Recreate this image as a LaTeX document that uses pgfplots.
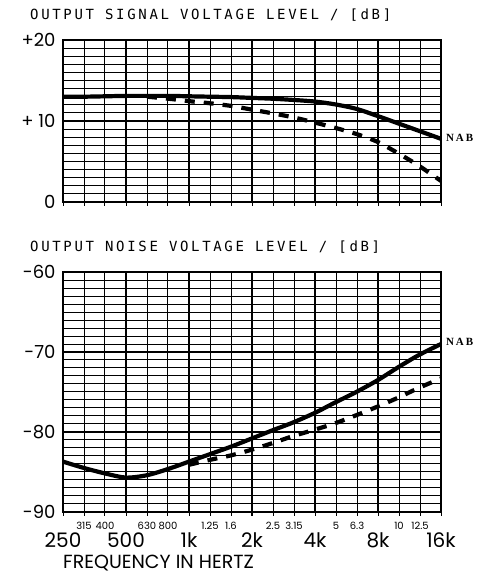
\documentclass[border=0pt]{standalone}
\usepackage{pgfplots}
\pgfplotsset{compat=1.18}
\usepackage{fontspec}
\setmainfont{Poppins}
\newfontfamily\titlefont{DejaVu Sans Mono}[LetterSpace=19]
\newfontfamily\nabfont{Liberation Serif}

\tikzset{
  sigline/.style={black, line width=4.2pt, smooth, tension=0.5},
  nabline/.style={black, line width=4.2pt, smooth, tension=0.5, dash pattern=on 10pt off 9pt},
}

\begin{document}
\begin{tikzpicture}[x=1pt,y=1pt]
\useasboundingbox (0,0) rectangle (492,576);

% signal level
\begin{axis}[at={(63pt,374pt)}, anchor=south west,
  scale only axis, width=378pt, height=162pt,
  xmode=log, log basis x=2, xmin=250, xmax=16000,
  xtick={250,500,1000,2000,4000,8000,16000},
  extra x ticks={314.98,396.85,629.96,793.70,1259.92,1587.40,2519.84,3174.80,5039.68,6349.60,10079.37,12699.21},
  grid=both,
  major grid style={black, line width=2.2pt},
  minor grid style={black, line width=1.0pt},
  extra x tick style={major grid style={black, line width=1.0pt}},
  axis line style={line width=2.8pt},
  tick align=outside, xtick pos=bottom, major tick length=4pt,
  xtick style={black, line width=1pt},
  ytick style={draw=none},
  yticklabel style={font=\fontsize{18}{18}\selectfont},
  ymin=0, ymax=20, ytick={0,10,20}, yticklabels={0,+ 10,+20},
  minor ytick={1,...,19},
  xticklabels={}, extra x tick labels={}]
\addplot[sigline] coordinates {
  (250,13.0) (315,13.0) (400,13.05) (500,13.1) (630,13.1) (800,13.1)
  (1000,13.05) (1250,13.0) (1600,12.95) (2000,12.85) (2500,12.75)
  (3150,12.6) (4000,12.4) (5000,12.05) (6300,11.5) (8000,10.6)
  (10000,9.7) (12500,8.8) (16000,7.8)};
\addplot[nabline] coordinates {
  (630,13.0) (800,12.75) (1000,12.45) (1250,12.2) (1600,11.85)
  (2000,11.4) (2500,10.95) (3150,10.45) (4000,9.8) (5000,9.15)
  (6300,8.4) (8000,7.4) (10000,6.0) (12500,4.5) (16000,2.6)};
\end{axis}

% noise level
\begin{axis}[at={(63pt,64pt)}, anchor=south west,
  scale only axis, width=378pt, height=240pt,
  xmode=log, log basis x=2, xmin=250, xmax=16000,
  xtick={250,500,1000,2000,4000,8000,16000},
  extra x ticks={314.98,396.85,629.96,793.70,1259.92,1587.40,2519.84,3174.80,5039.68,6349.60,10079.37,12699.21},
  grid=both,
  major grid style={black, line width=2.2pt},
  minor grid style={black, line width=1.0pt},
  extra x tick style={major grid style={black, line width=1.0pt},
    xticklabel style={font=\fontsize{10}{10}\selectfont, yshift=14pt}},
  axis line style={line width=2.8pt},
  tick align=outside, xtick pos=bottom, major tick length=4pt,
  xtick style={black, line width=1pt},
  ytick style={draw=none},
  yticklabel style={font=\fontsize{18}{18}\selectfont},
  ymin=-90, ymax=-60, ytick={-90,-80,-70,-60}, yticklabels={-90,-80,-70,-60},
  minor ytick={-89,...,-61},
  xticklabels={250,500,1k,2k,4k,8k,16k},
  xticklabel style={font=\fontsize{20}{20}\selectfont, anchor=center, yshift=-24pt},
  extra x tick labels={315,400,630,800,1.25,1.6,2.5,3.15,5,6.3,10,12.5}]
\addplot[sigline] coordinates {
  (250,-83.7) (315,-84.5) (400,-85.2) (500,-85.7) (630,-85.4) (800,-84.6)
  (1000,-83.7) (1250,-82.8) (1600,-81.8) (2000,-80.8) (2500,-79.8)
  (3150,-78.8) (4000,-77.6) (5000,-76.3) (6300,-75.0) (8000,-73.5)
  (10000,-71.9) (12500,-70.4) (16000,-69.0)};
\addplot[nabline] coordinates {
  (1000,-84.1) (1250,-83.5) (1600,-82.9) (2000,-82.2) (2500,-81.4)
  (3150,-80.5) (4000,-79.7) (5000,-78.9) (6300,-77.9) (8000,-76.8)
  (10000,-75.7) (12500,-74.5) (16000,-73.3)};
\end{axis}

\node[anchor=west, inner sep=0pt] at (30,561) {\titlefont\fontsize{14}{15}\selectfont OUTPUT SIGNAL VOLTAGE LEVEL / [dB]};
\node[anchor=west, inner sep=0pt] at (30,329) {\titlefont\fontsize{14}{15}\selectfont OUTPUT NOISE VOLTAGE LEVEL / [dB]};
\node[anchor=west, inner sep=0pt] at (446,438) {\nabfont\bfseries\fontsize{11}{12}\selectfont N\,A\,B};
\node[anchor=west, inner sep=0pt] at (446,234) {\nabfont\bfseries\fontsize{11}{12}\selectfont N\,A\,B};
\node[anchor=west, inner sep=0pt] at (63,13) {\fontsize{19}{19}\selectfont FREQUENCY IN HERTZ};
\end{tikzpicture}
\end{document}
